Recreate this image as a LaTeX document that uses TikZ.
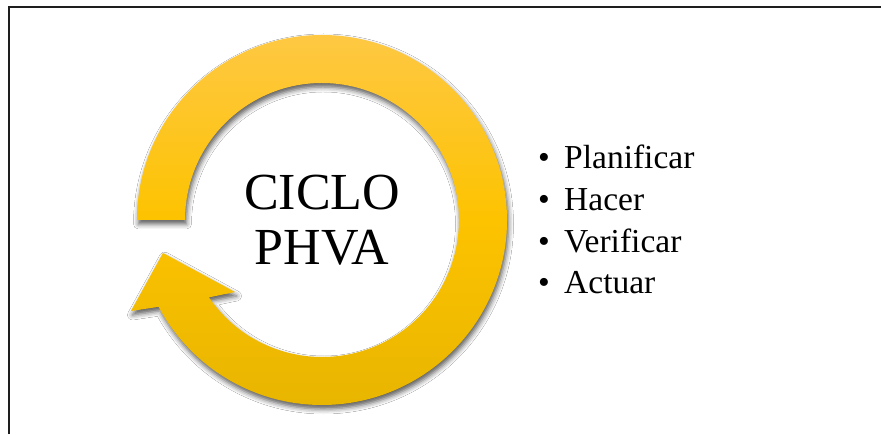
\documentclass[tikz,border=0pt]{standalone}
\usepackage{fontspec}
\setmainfont{Liberation Serif}
\usetikzlibrary{shadows.blur}
\definecolor{ringtop}{HTML}{FEC843}
\definecolor{ringmid}{HTML}{FDC300}
\definecolor{ringbot}{HTML}{E8B500}
\definecolor{framegray}{HTML}{1E1E1E}
\begin{document}
\begin{tikzpicture}[x=1pt,y=1pt,
  ringarrow/.style={top color=ringtop, bottom color=ringbot, middle color=ringmid,
    blur shadow={shadow xshift=1.5pt, shadow yshift=-4pt, shadow blur radius=5pt, shadow opacity=65}},
  titletext/.style={inner sep=0pt, align=center, font=\fontsize{52}{55}\selectfont},
  listtext/.style={anchor=base west, inner sep=0pt, font=\fontsize{33.5}{40}\selectfont}]
\useasboundingbox (0,0) rectangle (881,434);
\fill[white] (0,0) rectangle (881,434);
% frame lines (left and top)
\draw[framegray, line width=2pt] (8.8,0) -- (8.8,427.3) -- (881,427.3);
% circular arrow
\coordinate (c) at (322,214);
\coordinate (barbout) at (131,123);
\coordinate (tip) at (163,181);
\coordinate (barbin) at (235,142);
\path[ringarrow]
  (c) ++(180:185) arc[start angle=180, end angle=-152, radius=185]
  -- (barbout) -- (tip) -- (barbin)
  -- ([shift={(-145.6:137)}]c) arc[start angle=-145.6, end angle=180, radius=137]
  -- cycle;
% title in the middle of the ring
\node[titletext] (title) at (c) {CICLO\\PHVA};
% bullet list
\foreach \name/\txt/\y in {plan/Planificar/265, hacer/Hacer/223.3, verif/Verificar/181.7, actuar/Actuar/140}{
  \node[listtext] (b-\name) at (538,\y) {•};
  \node[listtext] (\name) at (564,\y) {\txt};
}
\end{tikzpicture}
\end{document}
